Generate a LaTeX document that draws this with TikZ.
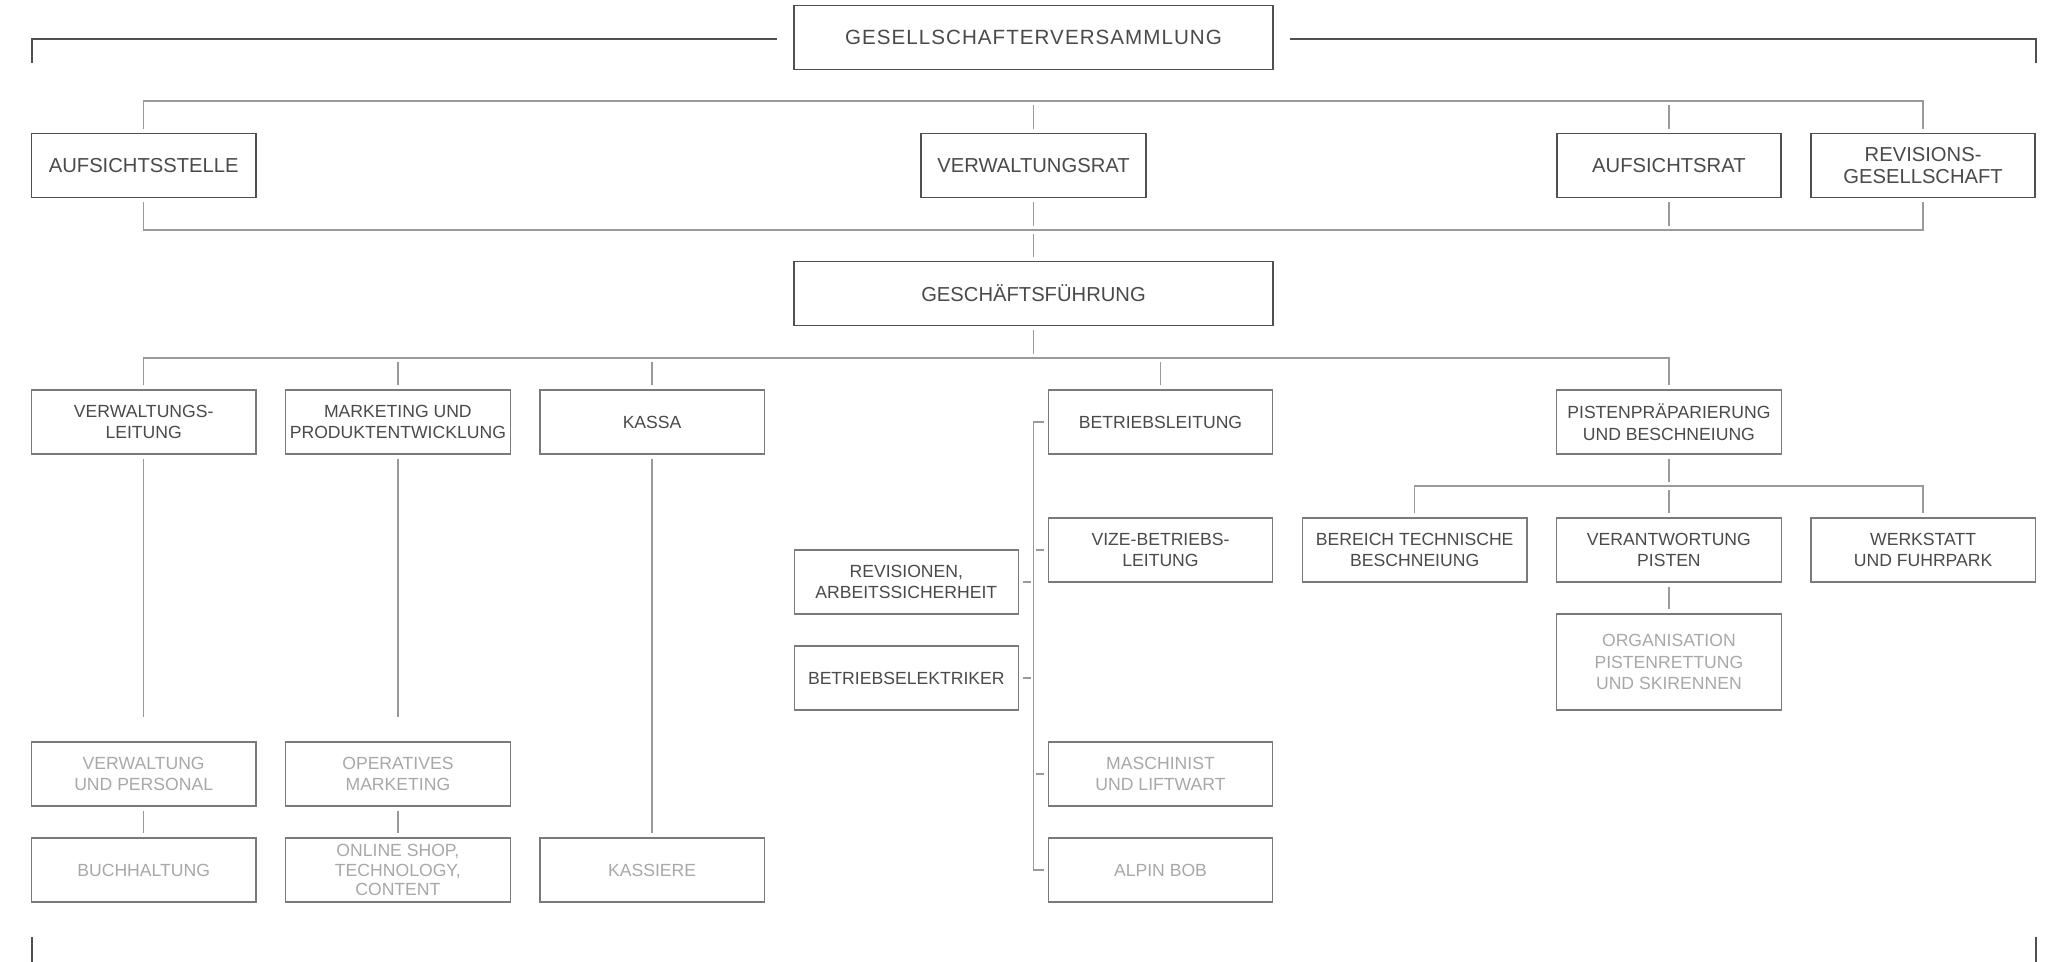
\documentclass[tikz,border=0pt]{standalone}
\usepackage{fontspec}
\setmainfont{Liberation Sans}
\newfontfamily\widefont[LetterSpace=5]{Liberation Sans}
\usetikzlibrary{calc}
\definecolor{ctext}{HTML}{4A4A4A}
\definecolor{cgrey}{HTML}{A8A8A8}
\definecolor{cdark}{HTML}{505050}
\definecolor{cmid}{HTML}{7A7A7A}
\definecolor{cline}{HTML}{9A9A9A}
\begin{document}
\begin{tikzpicture}[x=0.5pt,y=-0.5pt,
  topbox/.style={draw=cdark,line width=0.9pt,minimum width=112.2pt,minimum height=32pt,inner sep=0pt,align=center,text=ctext,font=\fontsize{10.1}{11.2}\selectfont},
  widebox/.style={topbox,minimum width=239.5pt},
  unitbox/.style={draw=cmid,line width=0.6pt,minimum width=112.2pt,minimum height=32pt,inner sep=0pt,align=center,text=ctext,font=\fontsize{8.8}{10.75}\selectfont},
  greybox/.style={unitbox,text=cgrey},
  conn/.style={draw=cline,line width=0.65pt},
  bracket/.style={draw=cdark,line width=1pt}]
\useasboundingbox[fill=white] (0,0) rectangle (2058,962);

% coordinates of connector levels and bracket ends
\coordinate (h1) at (0,101);
\coordinate (h2) at (0,230);
\coordinate (h3) at (0,358);
\coordinate (h4) at (0,486);
\coordinate (btl) at (31.5,63);
\coordinate (btr) at (2036,63);
\coordinate (bbl1) at (31.5,937);
\coordinate (bbl2) at (31.5,962);
\coordinate (bbr1) at (2036,937);
\coordinate (bbr2) at (2036,962);

% level 1
\node[widebox,font=\widefont\fontsize{10.3}{11.2}\selectfont] (gv) at (1033.5,37.5) {GESELLSCHAFTERVERSAMMLUNG};
% level 2
\node[topbox] (as) at (143.7,165.5) {AUFSICHTSSTELLE};
\node[topbox] (vr) at (1033.5,165.5) {VERWALTUNGSRAT};
\node[topbox] (ar) at (1668.9,165.5) {AUFSICHTSRAT};
\node[topbox] (rg) at (1923.1,165.5) {REVISIONS-\\GESELLSCHAFT};
\node[widebox] (gf) at (1033.5,293.5) {GESCHÄFTSFÜHRUNG};
% level 3
\node[unitbox] (vl) at (143.7,422) {VERWALTUNGS-\\LEITUNG};
\node[unitbox] (mk) at (397.9,422) {MARKETING UND\\PRODUKTENTWICKLUNG};
\node[unitbox] (ka) at (652.1,422) {KASSA};
\node[unitbox] (bl) at (1160.5,422) {BETRIEBSLEITUNG};
\node[unitbox] (pp) at (1668.9,422) {PISTENPRÄPARIERUNG\\UND BESCHNEIUNG};
% level 4
\node[unitbox] (vb) at (1160.5,550) {VIZE-BETRIEBS-\\LEITUNG};
\node[unitbox] (bt) at (1414.7,550) {BEREICH TECHNISCHE\\BESCHNEIUNG};
\node[unitbox] (vp) at (1668.9,550) {VERANTWORTUNG\\PISTEN};
\node[unitbox] (wf) at (1923.1,550) {WERKSTATT\\UND FUHRPARK};
\node[unitbox] (rv) at (906.3,582) {REVISIONEN,\\ARBEITSSICHERHEIT};
\node[unitbox] (be) at (906.3,678) {BETRIEBSELEKTRIKER};
\node[greybox,minimum height=48pt] (org) at (1668.9,662) {ORGANISATION\\PISTENRETTUNG\\UND SKIRENNEN};
% level 5 / 6
\node[greybox] (vup) at (143.7,774) {VERWALTUNG\\UND PERSONAL};
\node[greybox] (om) at (397.9,774) {OPERATIVES\\MARKETING};
\node[greybox] (ml) at (1160.5,774) {MASCHINIST\\UND LIFTWART};
\node[greybox] (bh) at (143.7,870) {BUCHHALTUNG};
\node[greybox,font=\fontsize{8.8}{9.6}\selectfont] (os) at (397.9,870) {ONLINE SHOP,\\TECHNOLOGY,\\CONTENT};
\node[greybox] (kas) at (652.1,870) {KASSIERE};
\node[greybox] (ab) at (1160.5,870) {ALPIN BOB};

% brackets
\draw[bracket] (btl) |- ($(gv.west)+(-16,1.5)$);
\draw[bracket] (btr) |- ($(gv.east)+(16,1.5)$);
\draw[bracket] (bbl1) -- (bbl2);
\draw[bracket] (bbr1) -- (bbr2);

% level 2 connectors
\draw[conn] ($(as.north)+(0,-4)$) -- (as.north |- h1) -- (rg.north |- h1) -- ($(rg.north)+(0,-4)$);
\foreach \n in {vr,ar} \draw[conn] ($(\n.north)+(0,-4)$) -- ($(\n.north |- h1)+(0,4)$);
\draw[conn] ($(as.south)+(0,4)$) -- (as.south |- h2) -- (rg.south |- h2) -- ($(rg.south)+(0,4)$);
\foreach \n in {vr,ar} \draw[conn] ($(\n.south)+(0,4)$) -- ($(\n.south |- h2)+(0,-4)$);
\draw[conn] ($(gf.north)+(0,-4)$) -- ($(gf.north |- h2)+(0,4)$);

% level 3 connectors
\draw[conn] ($(gf.south)+(0,4)$) -- ($(gf.south |- h3)+(0,-4)$);
\draw[conn] ($(vl.north)+(0,-4)$) -- (vl.north |- h3) -- (pp.north |- h3) -- ($(pp.north)+(0,-4)$);
\foreach \n in {mk,ka,bl} \draw[conn] ($(\n.north)+(0,-4)$) -- ($(\n.north |- h3)+(0,4)$);

% columns
\draw[conn] ($(vl.south)+(0,4)$) -- ($(vup.north)+(0,-24)$);
\draw[conn] ($(mk.south)+(0,4)$) -- ($(om.north)+(0,-24)$);
\draw[conn] ($(ka.south)+(0,4)$) -- ($(kas.north)+(0,-4)$);
\draw[conn] ($(vup.south)+(0,4)$) -- ($(bh.north)+(0,-4)$);
\draw[conn] ($(om.south)+(0,4)$) -- ($(os.north)+(0,-4)$);

% Betriebsleitung group
\draw[conn] ($(bl.west)+(-4,0)$) -- ++(-10,0) |- ($(ab.west)+(-4,0)$);
\foreach \n in {vb,ml} \draw[conn] ($(\n.west)+(-4,0)$) -- ++(-8,0);
\foreach \n in {rv,be} \draw[conn] ($(\n.east)+(4,0)$) -- ++(8,0);

% Pisten group
\draw[conn] ($(pp.south)+(0,4)$) -- ($(pp.south |- h4)+(0,-4)$);
\draw[conn] ($(bt.north)+(0,-4)$) -- (bt.north |- h4) -- (wf.north |- h4) -- ($(wf.north)+(0,-4)$);
\draw[conn] ($(vp.north)+(0,-4)$) -- ($(vp.north |- h4)+(0,4)$);
\draw[conn] ($(vp.south)+(0,4)$) -- ($(org.north)+(0,-4)$);
\end{tikzpicture}
\end{document}
